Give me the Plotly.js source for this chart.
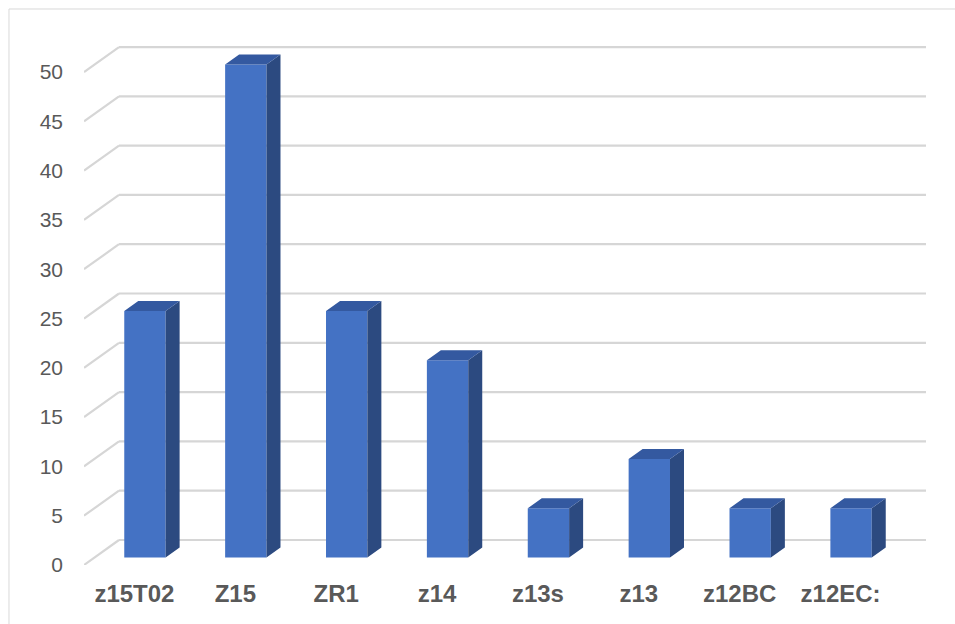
<!DOCTYPE html>
<html>
<head>
<meta charset="utf-8">
<script src="https://cdn.plot.ly/plotly-3.0.1.min.js"></script>
<style>html,body{margin:0;padding:0;background:#fff;}#chart{width:955px;height:624px;}</style>
</head>
<body>
<div id="chart"></div>
<script>
// ---- data ----
const categories = ["z15T02", "Z15", "ZR1", "z14", "z13s", "z13", "z12BC", "z12EC:"];
const values = [25, 50, 25, 20, 5, 10, 5, 5];
const yTicks = [0, 5, 10, 15, 20, 25, 30, 35, 40, 45, 50];

// ---- pseudo-3D geometry (in data units) ----
const DX = 0.347;   // full depth, x (category units)
const DY = 2.535;   // full depth, y (value units)
const F1 = 0.30, F2 = 0.70;  // bar front / back depth fractions
const W = 0.41;     // bar width
const idx = categories.map((c, i) => i);

const frontColor = "#4472C4", topColor = "#3459A0", sideColor = "#2C4A80";
const gridColor = "#D6D6D6";

// gridlines: diagonal from front plane to back wall + back wall horizontal line
const shapes = [];
yTicks.forEach(v => {
  shapes.push({type: "line", xref: "x", yref: "y", layer: "below",
    x0: -0.5, y0: v, x1: -0.5 + DX, y1: v + DY, line: {color: gridColor, width: 2.2}});
  shapes.push({type: "line", xref: "x", yref: "y", layer: "below",
    x0: -0.5 + DX, y0: v + DY, x1: categories.length - 0.5 + DX, y1: v + DY, line: {color: gridColor, width: 2.2}});
});
// outer chart frame
shapes.push({type: "rect", xref: "paper", yref: "paper", layer: "below",
  x0: -0.0891, y0: -0.13, x1: 1.05, y1: 1.0713, line: {color: "#D9D9D9", width: 1}});

// top & side faces
const topX = [], topY = [], sideX = [], sideY = [];
idx.forEach(i => {
  const v = values[i];
  const xl = i - W / 2, xr = i + W / 2;
  topX.push(xl + F1 * DX, xr + F1 * DX, xr + F2 * DX, xl + F2 * DX, xl + F1 * DX, null);
  topY.push(v + F1 * DY, v + F1 * DY, v + F2 * DY, v + F2 * DY, v + F1 * DY, null);
  sideX.push(xr + F1 * DX, xr + F2 * DX, xr + F2 * DX, xr + F1 * DX, xr + F1 * DX, null);
  sideY.push(F1 * DY, F2 * DY, v + F2 * DY, v + F1 * DY, F1 * DY, null);
});

const traces = [
  {type: "bar", x: idx.map(i => i + F1 * DX), y: values, base: F1 * DY, width: W,
   marker: {color: frontColor, line: {width: 0}}, hoverinfo: "skip", showlegend: false},
  {type: "scatter", mode: "lines", x: sideX, y: sideY, fill: "toself", fillcolor: sideColor,
   line: {width: 0, color: sideColor}, hoverinfo: "skip", showlegend: false},
  {type: "scatter", mode: "lines", x: topX, y: topY, fill: "toself", fillcolor: topColor,
   line: {width: 0, color: topColor}, hoverinfo: "skip", showlegend: false}
];

const layout = {
  width: 955, height: 624,
  margin: {l: 84, r: 29, t: 46, b: 59},
  paper_bgcolor: "#fff", plot_bgcolor: "#fff",
  showlegend: false,
  xaxis: {range: [-0.5, categories.length - 0.5 + DX], tickvals: idx, ticktext: categories,
    showgrid: false, zeroline: false, showline: false, ticks: "",
    ticklabelstandoff: 12,
    tickfont: {family: "Liberation Sans, Arial, sans-serif", size: 24, color: "#595959", weight: "bold"}},
  yaxis: {range: [0, 52.64], tickvals: yTicks, ticktext: yTicks.map(String),
    showgrid: false, zeroline: false, showline: false, ticks: "",
    ticklabelstandoff: 20,
    tickfont: {family: "Liberation Sans, Arial, sans-serif", size: 21, color: "#595959"}},
  shapes: shapes
};

Plotly.newPlot("chart", traces, layout, {displayModeBar: false, staticPlot: true});
</script>
</body>
</html>
